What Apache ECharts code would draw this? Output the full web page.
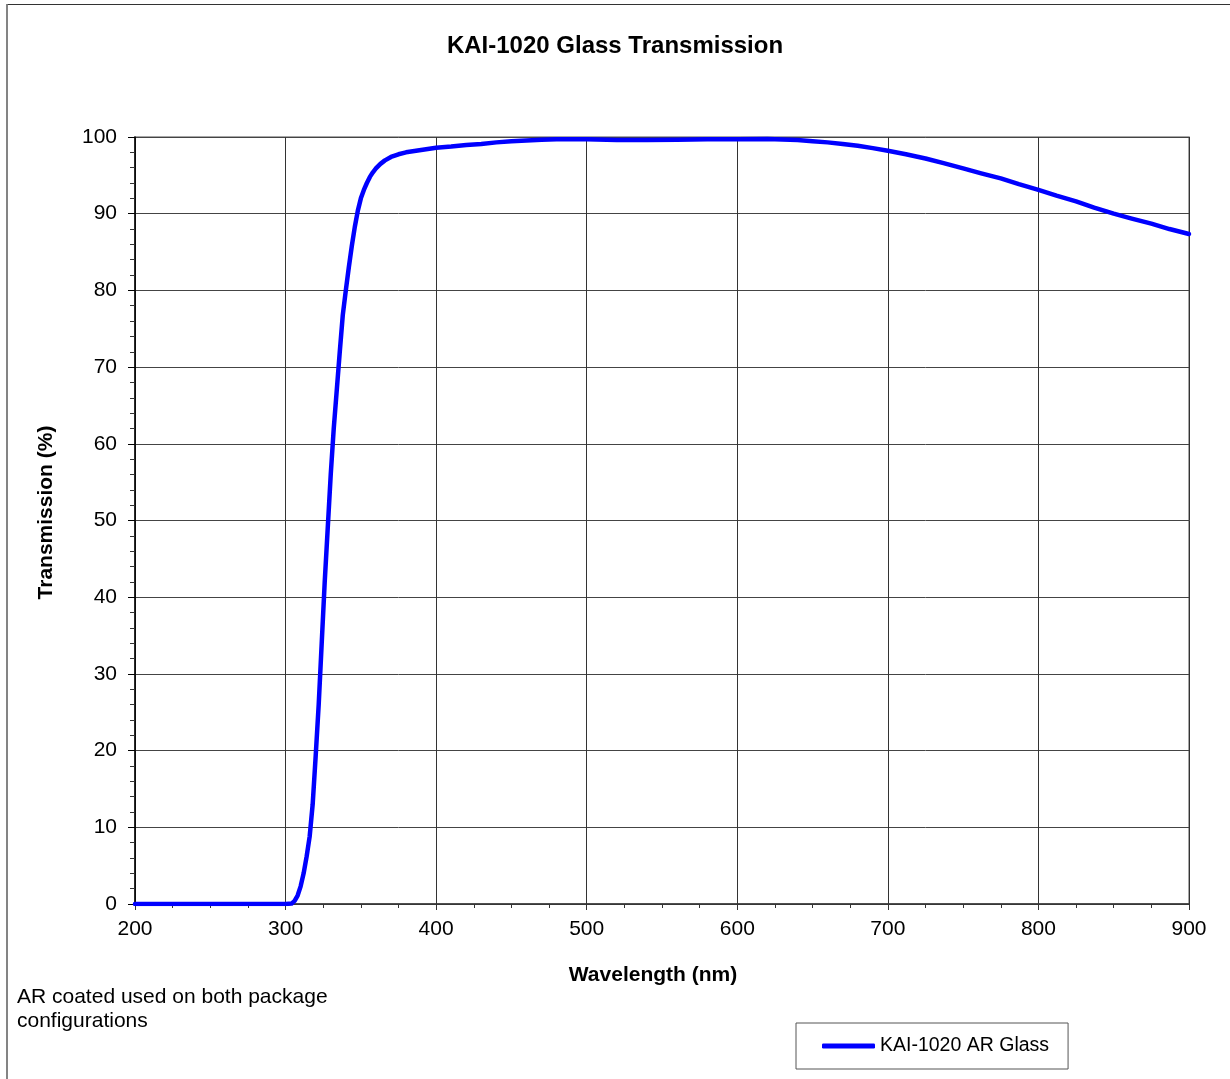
<!DOCTYPE html>
<html>
<head>
<meta charset="utf-8">
<title>KAI-1020 Glass Transmission</title>
<script src="https://cdn.jsdelivr.net/npm/echarts@6/dist/echarts.min.js"></script>
<style>
  html, body { margin: 0; padding: 0; background: #fff; }
  #chart { width: 1230px; height: 1079px; }
</style>
</head>
<body>
<div id="chart"></div>
<script>
// Wavelength samples (nm) and measured transmission (%) of the AR-coated cover glass
const wavelengths = [
  200, 250, 300, 304, 306, 308, 310, 312, 314, 316, 318, 320, 322, 324, 326, 328,
  330, 332, 334, 336, 338, 340, 342, 344, 346, 348, 350, 352, 354, 356, 358, 360,
  363, 366, 370, 375, 380, 390, 400, 410, 420, 430, 440, 450, 460, 470, 480, 500,
  520, 540, 560, 580, 600, 620, 640, 650, 660, 670, 680, 690, 700, 712, 725, 737,
  750, 762, 775, 787, 800, 812, 825, 837, 850, 862, 875, 887, 900
];
const transmission = [
  0, 0, 0, 0.05, 0.4, 1.1, 2.3, 4.0, 6.2, 8.8, 13.0, 19.3, 26, 34, 42, 49,
  56, 62, 67, 72, 76.8, 80, 83, 85.8, 88.3, 90.4, 92, 93.1, 94.0, 94.8, 95.4, 95.9,
  96.5, 96.95, 97.4, 97.75, 98.0, 98.3, 98.6, 98.75, 98.95, 99.1, 99.3, 99.45, 99.55, 99.65, 99.7, 99.7,
  99.6, 99.6, 99.65, 99.7, 99.7, 99.75, 99.6, 99.45, 99.3, 99.1, 98.85, 98.55, 98.2, 97.75, 97.2, 96.6,
  95.9, 95.25, 94.6, 93.85, 93.1, 92.35, 91.6, 90.8, 90.0, 89.35, 88.7, 88.0, 87.35
];
const xTicks = { min: 200, max: 900, step: 100 };
const yTicks = { min: 0, max: 100, step: 10 };
const seriesName = 'KAI-1020 AR Glass';
const chartTitle = 'KAI-1020 Glass Transmission';
const xAxisTitle = 'Wavelength (nm)';
const yAxisTitle = 'Transmission (%)';
const footnote = 'AR coated used on both package\nconfigurations';

const points = wavelengths.map((w, i) => [w, transmission[i]]);
const FONT = '"Liberation Sans", Arial, sans-serif';

const chart = echarts.init(document.getElementById('chart'), null, { renderer: 'canvas' });
chart.setOption({
  backgroundColor: '#ffffff',
  animation: false,
  title: {
    text: chartTitle,
    left: 'center',
    top: 29,
    textStyle: { fontFamily: FONT, fontSize: 24, fontWeight: 'bold', color: '#000' }
  },
  grid: {
    left: 135, right: 41, top: 137, bottom: 175,
    show: true, borderColor: '#8a8a8a', borderWidth: 1.5, backgroundColor: 'transparent'
  },
  legend: {
    data: [{ name: seriesName, icon: 'roundRect' }],
    left: 796, top: 1023,
    orient: 'horizontal',
    padding: [13, 19, 13, 26],
    itemWidth: 53, itemHeight: 5,
    borderColor: '#555', borderWidth: 1,
    selectedMode: false,
    textStyle: { fontFamily: FONT, fontSize: 19.5, color: '#000' }
  },
  xAxis: {
    type: 'value',
    min: xTicks.min, max: xTicks.max, interval: xTicks.step,
    name: xAxisTitle,
    nameLocation: 'middle',
    nameGap: 61,
    nameTextStyle: { fontFamily: FONT, fontSize: 21, fontWeight: 'bold', color: '#000', padding: [0, 18, 0, 0] },
    axisLine: { show: true, onZero: false, lineStyle: { color: '#333', width: 1.5 } },
    axisTick: { show: true, inside: false, length: 6, lineStyle: { color: '#333' } },
    minorTick: { show: true, splitNumber: 4, length: 4, lineStyle: { color: '#333' } },
    axisLabel: { fontFamily: FONT, fontSize: 21, color: '#000', margin: 15 },
    splitLine: { show: true, lineStyle: { color: '#333', width: 1 } }
  },
  yAxis: {
    type: 'value',
    min: yTicks.min, max: yTicks.max, interval: yTicks.step,
    name: yAxisTitle,
    nameLocation: 'middle',
    nameGap: 78,
    nameTextStyle: { fontFamily: FONT, fontSize: 21, fontWeight: 'bold', color: '#000', padding: [0, 0, 0, 16] },
    axisLine: { show: true, onZero: false, lineStyle: { color: '#000', width: 1.5 } },
    axisTick: { show: true, inside: false, length: 7, lineStyle: { color: '#000' } },
    minorTick: { show: true, splitNumber: 5, length: 5, lineStyle: { color: '#333' } },
    axisLabel: { fontFamily: FONT, fontSize: 21, color: '#000', margin: 18 },
    splitLine: { show: true, lineStyle: { color: '#444', width: 1 } }
  },
  series: [{
    name: seriesName,
    type: 'line',
    data: points,
    showSymbol: false,
    smooth: false,
    color: '#0000ff',
    lineStyle: { color: '#0000ff', width: 4.5, cap: 'round', join: 'round' },
    z: 5
  }],
  graphic: [
    // outer frame of the chart sheet (top and left edges)
    { type: 'line', shape: { x1: 7, y1: 4.5, x2: 1230, y2: 4.5 }, style: { stroke: '#333', lineWidth: 1.2 }, silent: true },
    { type: 'line', shape: { x1: 7, y1: 4, x2: 7, y2: 1079 }, style: { stroke: '#777', lineWidth: 1.8 }, silent: true },
    {
      type: 'text', left: 17, top: 985,
      style: { text: footnote, fontFamily: FONT, fontSize: 21, lineHeight: 24, fill: '#000' }
    }
  ]
});
</script>
</body>
</html>
